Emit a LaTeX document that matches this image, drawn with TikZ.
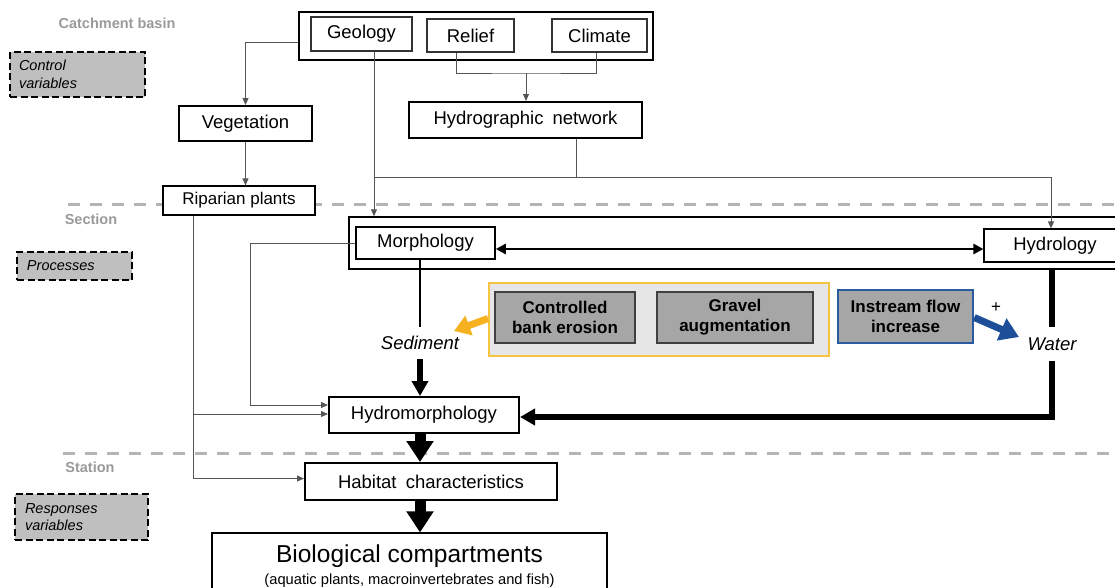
\documentclass[tikz,border=0pt]{standalone}
\usepackage{fontspec}
\setmainfont{Liberation Sans}
\usetikzlibrary{arrows.meta,calc}
\definecolor{lblgray}{HTML}{9A9A9A}
\definecolor{sepgray}{HTML}{B4B4B4}
\definecolor{leggray}{HTML}{BFBFBF}
\definecolor{boxgray}{HTML}{A6A6A6}
\definecolor{ybfill}{HTML}{E6E6E6}
\definecolor{ybord}{HTML}{F5C542}
\definecolor{blueb}{HTML}{2A5AA0}
\definecolor{yarrc}{HTML}{F5B120}
\definecolor{barrc}{HTML}{1F4E99}
\definecolor{linegray}{HTML}{555555}
\begin{document}
\begin{tikzpicture}[x=1pt,y=-1pt,
  fmain/.style={font=\fontsize{18.5}{22}\selectfont},
  box/.style={draw=black, line width=1.5pt, fill=white, inner sep=0pt, fmain},
  sbox/.style={box, draw=black!80, line width=1.3pt},
  lbl/.style={text=lblgray, font=\bfseries\fontsize{14.5}{17}\selectfont},
  leg/.style={draw=black, fill=leggray, line width=2.5pt, dash pattern=on 7pt off 3.5pt,
              inner ysep=0pt, inner xsep=9pt, align=left, font=\itshape\fontsize{14.5}{17.5}\selectfont},
  gbox/.style={draw=black!75, line width=1.4pt, fill=boxgray, inner sep=0pt, align=center,
               font=\bfseries\fontsize{17}{20}\selectfont},
  itl/.style={font=\itshape\fontsize{18.5}{22}\selectfont, inner xsep=0pt},
  sepline/.style={draw=sepgray, line width=3pt, dash pattern=on 12pt off 10pt},
  thinline/.style={draw=linegray, line width=1pt},
  thinarr/.style={thinline, -{Triangle[length=7pt,width=6pt]}},
  medline/.style={draw=black, line width=1.6pt},
  dblarr/.style={draw=black, line width=2.5pt, {Triangle[length=10pt,width=10pt]}-{Triangle[length=10pt,width=10pt]}},
  thickline/.style={draw=black, line width=5.5pt},
  thickarr/.style={draw=black, line width=5.5pt, line join=miter, -{Triangle[length=15pt,width=16pt]}},
  bigarr/.style={draw=black, line width=11pt, -{Triangle[length=21pt,width=26pt]}},
  yarr/.style={draw=yarrc, line width=7pt, -{Triangle[length=16pt,width=20pt]}},
  barr/.style={draw=barrc, line width=7pt, -{Triangle[length=19pt,width=23pt]}}
]
\path[use as bounding box] (0,0) rectangle (1115,587);

% level separators
\draw[sepline] (68,204) -- (1115,204);
\draw[sepline] (63,453) -- (1115,453);

% level labels and legend boxes
\node[lbl] (cbas) at (117,23) {Catchment basin};
\node[lbl] (sect) at (91,219) {Section};
\node[lbl] (stat) at (90,467) {Station};
\node[leg, text width=117pt, minimum height=45pt] (cv) at (77.5,74.5) {Control\\variables};
\node[leg, text width=95pt, minimum height=28pt, inner xsep=10pt] (proc) at (74.5,266) {Processes};
\node[leg, text width=113pt, minimum height=46pt, inner xsep=10pt] (resp) at (81.5,517) {Responses\\variables};

% catchment level
\node[box, line width=2pt, minimum width=354pt, minimum height=48pt] (cat) at (476,36) {};
\node[sbox, minimum width=101pt, minimum height=34pt] (geo) at (361.5,34) {Geology};
\node[sbox, minimum width=87pt, minimum height=33pt] (rel) at (470.5,35.5) {Relief};
\node[sbox, minimum width=95pt, minimum height=33pt] (cli) at (599.5,35.5) {Climate};
\node[box, line width=2pt, minimum width=233pt, minimum height=36pt] (hyn) at (525.5,120) {Hydrographic\hspace{4pt} network};
\node[box, line width=2pt, minimum width=133pt, minimum height=35pt] (veg) at (245.5,123.5) {Vegetation};
\node[box, line width=1.2pt, minimum width=152pt, minimum height=29pt, font=\fontsize{17}{20}\selectfont] (rip) at (239,200.5) {Riparian plants};

% section level
\node[box, line width=1.5pt, minimum width=776pt, minimum height=52pt] (mo) at (737,243) {};
\node[box, minimum width=139pt, minimum height=32pt] (mor) at (425.5,243) {Morphology};
\node[box, line width=1.2pt, minimum width=142pt, minimum height=33pt] (hyl) at (1055,245.5) {Hydrology};

\node[draw=ybord, fill=ybfill, line width=2pt, minimum width=340pt, minimum height=73pt] (yel) at (659,319.5) {};
\node[gbox, minimum width=140pt, minimum height=51pt] (cbe) at (565,317.5) {Controlled\\bank erosion};
\node[gbox, minimum width=156pt, minimum height=51pt] (gra) at (735,317.5) {Gravel\\augmentation};
\node[gbox, draw=blueb, line width=2.5pt, minimum width=135pt, minimum height=53pt] (ins) at (905.5,316.5) {Instream flow\\increase};

\node[itl, inner ysep=9pt] (sed) at (420,343) {Sediment};
\node[itl, inner ysep=10pt] (wat) at (1052,344) {Water};
\node[font=\fontsize{17}{20}\selectfont, inner sep=0pt] (plus) at (996,308) {+};

\node[box, line width=2pt, minimum width=190pt, minimum height=36pt] (hm) at (424,415) {Hydromorphology};

% station level
\node[box, line width=2pt, minimum width=252pt, minimum height=37pt] (hab) at (431,481.5) {Habitat\hspace{4pt} characteristics};
\node[box, line width=1.2pt, minimum width=395pt, minimum height=66pt, align=center] (bio) at (409.5,566)
  {\fontsize{24.5}{28}\selectfont Biological compartments\\ \fontsize{14.7}{19.5}\selectfont (aquatic plants, macroinvertebrates and fish)};

% coordinates for connector bends
\coordinate (gs) at ($(geo.south)+(12.5,0)$);
\coordinate (jl) at (374,177);
\coordinate (jr) at (1051,177);
\coordinate (hs) at ($(hyn.south)+(50.5,0)$);
\coordinate (rs) at ($(rel.south)+(-14.5,0)$);
\coordinate (cs) at ($(cli.south)+(-3.5,0)$);
\coordinate (br) at (526,73);
\coordinate (rpb) at ($(rip.south)+(-46,0)$);
\coordinate (hms) at ($(hm.south)+(-4,0)$);
\coordinate (habs) at ($(hab.south)+(-11,0)$);
\coordinate (ytip) at (454,331);
\coordinate (btip) at (1019,337);

% thin connectors
\draw[thinarr] ($(cat.west)+(0,6)$) -| (veg.north);
\draw[thinarr] (veg.south) -- (veg.south |- rip.north);
\draw[thinarr] (gs) -- (gs |- mo.north);
\draw[thinline] (rs) |- (br) -| (cs);
\draw[thinarr] (br) -- (br |- hyn.north);
\draw[thinline] (hs) -- (hs |- jl);
\draw[thinarr] (jl) -- (jr) -- (jr |- hyl.north);
\draw[thinarr] (rpb) |- ($(hab.west)+(0,-3)$);
\draw[thinarr] ($(rpb |- hm.west)+(0,-1)$) -- ($(hm.west)+(0,-1)$);
\draw[thinarr] (mor.west) -- ++(-105,0) |- ($(hm.west)+(0,-10)$);

% process connectors
\draw[dblarr] ($(mor.east)+(0,6)$) -- ($(mor.east -| hyl.west)+(0,6)$);
\draw[medline] (sed.north |- mor.south) -- (sed.north);
\draw[thickarr] (sed.south) -- (sed.south |- hm.north);
\draw[thickline] (wat.north |- mo.south) -- (wat.north);
\draw[thickarr] (wat.south) |- ($(hm.east)+(0,2)$);
\draw[bigarr] (hms) -- (hms |- hab.north);
\draw[bigarr] (habs) -- (habs |- bio.north);

% management arrows
\draw[yarr] ($(yel.west)+(0,-1)$) -- (ytip);
\draw[barr] ($(ins.east)+(0,1)$) -- (btip);
\end{tikzpicture}
\end{document}
